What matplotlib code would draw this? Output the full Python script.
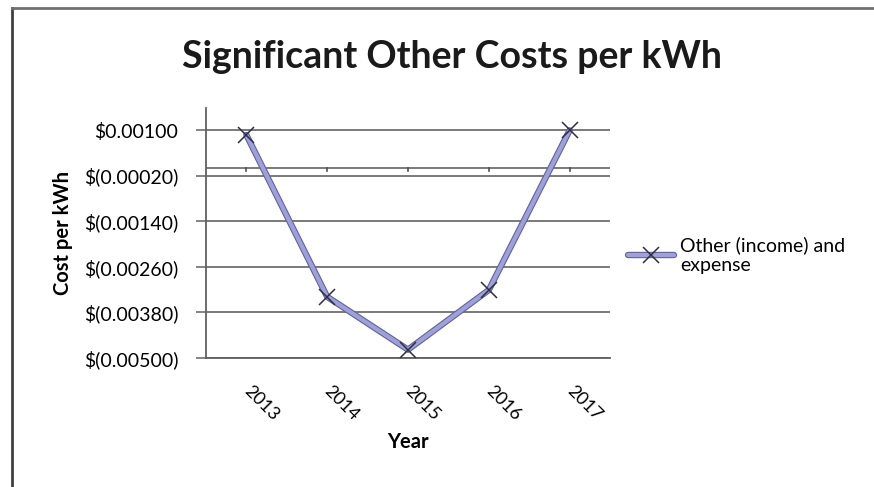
import numpy as np
import matplotlib.pyplot as plt
import matplotlib.patheffects as pe
from matplotlib.lines import Line2D
from matplotlib.ticker import FuncFormatter

plt.rcParams['font.family'] = ['Lato', 'DejaVu Sans']

# Other (income) and expense, dollars per kWh
years = ['2013', '2014', '2015', '2016', '2017']
other_cost = [0.00087, -0.00339, -0.00478, -0.00321, 0.00099]
y_ticks = [0.00100, -0.00020, -0.00140, -0.00260, -0.00380, -0.00500]


def dollar_fmt(v, pos):
    if v < 0:
        return '$(%.5f)' % abs(v)
    return '$%.5f' % v


fig = plt.figure(figsize=(8.74, 4.87), dpi=100)
ax = fig.add_axes([206 / 874, 1 - 358 / 487, 404 / 874, 250 / 487])

x = np.arange(len(years))
# line with a darker outline, markers drawn on top without the outline
line, = ax.plot(x, other_cost, color='#a0a0d8', lw=3.0, solid_capstyle='round', zorder=4,
                path_effects=[pe.Stroke(linewidth=4.6, foreground='#62629c'), pe.Normal()])
marks, = ax.plot(x, other_cost, ls='none', marker='x', ms=12, mew=1.1, mec='#2e2e40', zorder=5)

ax.set_xlim(-0.5, len(years) - 0.5)
ax.set_ylim(-0.005, 0.00158)
ax.set_yticks(y_ticks)
ax.yaxis.set_major_formatter(FuncFormatter(dollar_fmt))
ax.grid(axis='y', color='#707070', lw=1.3)
ax.set_axisbelow(True)

# horizontal axis crosses at zero
ax.axhline(0, color='#707070', lw=1.3, zorder=2)
for xi in x:
    ax.plot([xi, xi], [0, -0.00008], color='#505050', lw=1.2, zorder=2)

ax.set_xticks(x)
ax.set_xticklabels(years, rotation=-45, ha='left', va='center', rotation_mode='anchor')
ax.tick_params(axis='x', length=0, pad=22, labelsize=13)
ax.tick_params(axis='y', length=7, width=1.2, color='#707070', labelsize=14, pad=13)

for side in ['top', 'right']:
    ax.spines[side].set_visible(False)
ax.spines['left'].set_color('#606060')
ax.spines['left'].set_linewidth(1.3)
ax.spines['bottom'].set_color('#606060')
ax.spines['bottom'].set_linewidth(1.3)

ax.set_ylabel('Cost per kWh', fontsize=14.5, fontweight='bold', labelpad=8)
ax.set_xlabel('Year', fontsize=14.5, fontweight='bold', labelpad=6)

fig.text(452 / 874, 1 - 57 / 487, 'Significant Other Costs per kWh', ha='center', va='center',
         fontsize=27, fontweight='bold', color='#1a1a1a')

fig.legend([(line, marks)], ['Other (income) and\nexpense'], loc='center left',
           bbox_to_anchor=(610 / 874, 1 - 255 / 487), frameon=False, fontsize=14,
           handlelength=2.4, handletextpad=0.3, labelspacing=0.2)

# outer chart border
fig.add_artist(Line2D([12 / 874, 12 / 874], [0, 1 - 8 / 487], color='#404040', lw=2))
fig.add_artist(Line2D([12 / 874, 1], [1 - 8 / 487, 1 - 8 / 487], color='#707070', lw=2))

fig.savefig('out.png', dpi=100)
